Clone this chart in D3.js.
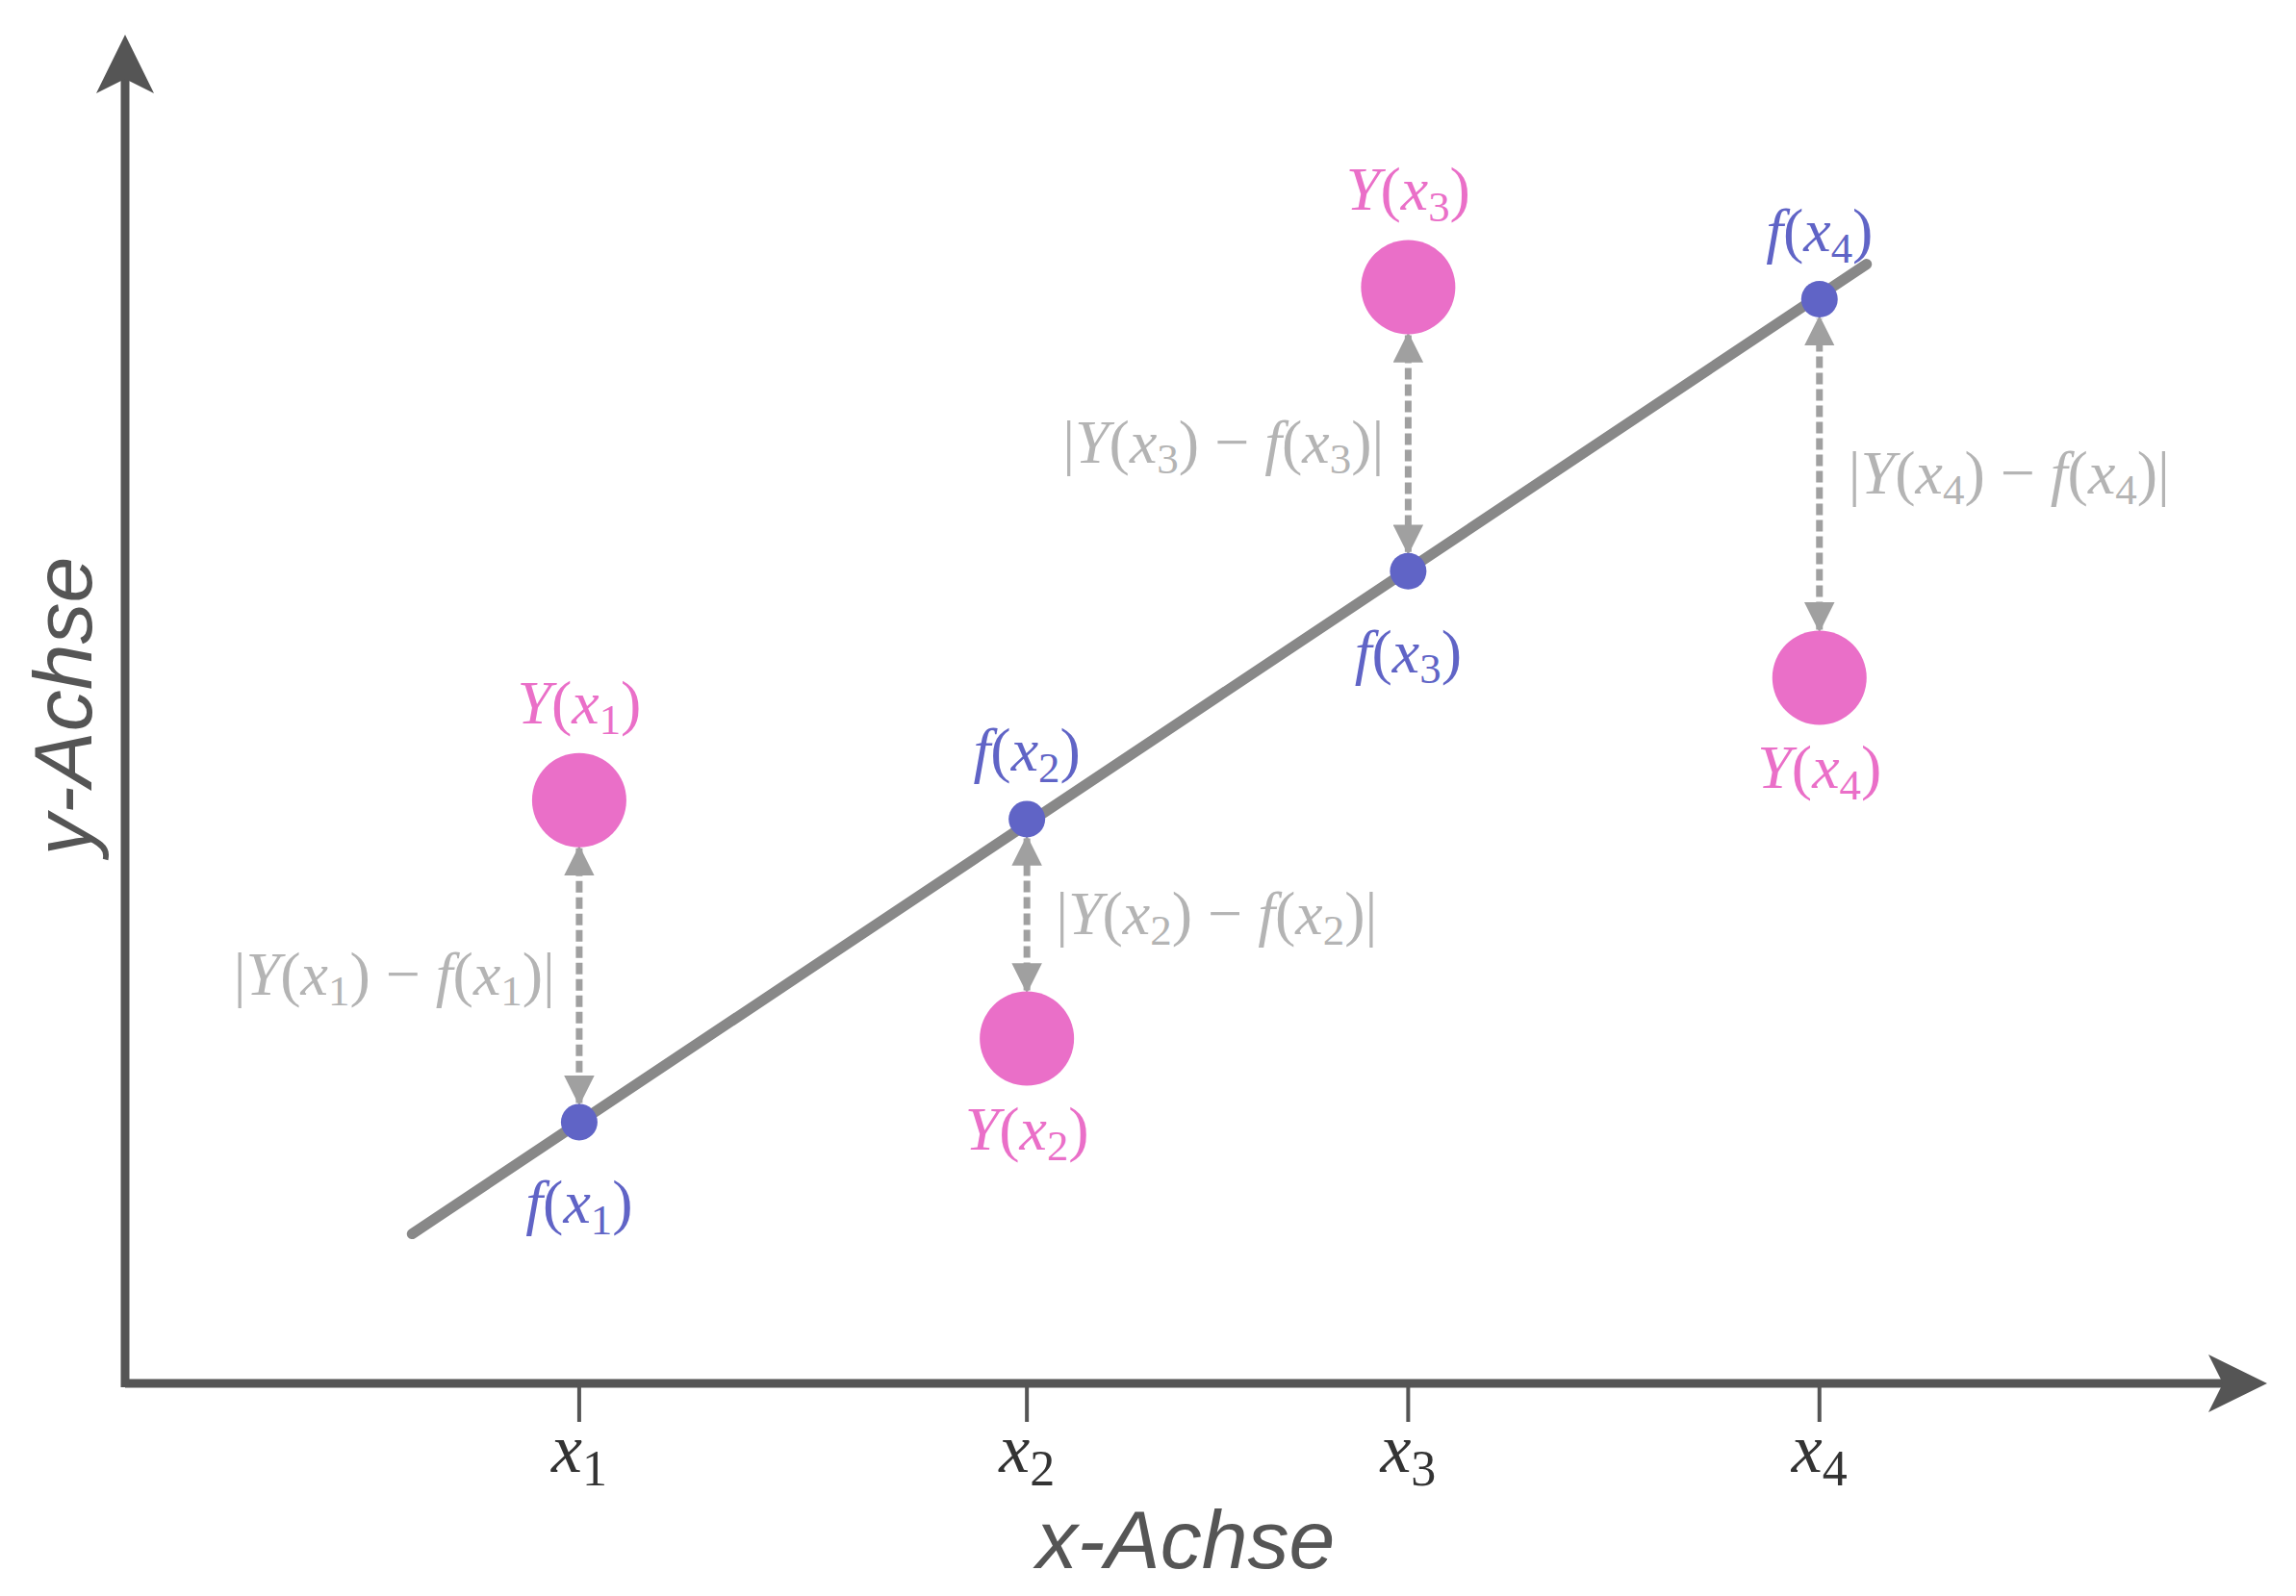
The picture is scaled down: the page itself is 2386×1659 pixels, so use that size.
<!DOCTYPE html>
<html><head><meta charset="utf-8">
<script src="https://cdn.jsdelivr.net/npm/d3@7"></script>
<style>body{margin:0;background:#fff}</style></head>
<body><svg id="c" width="2386" height="1659"></svg>
<script>
const tickLabels = ["1","2","3","4"];
const xValues = [2.12, 4.21, 5.99, 7.91];
const fValues = [1.94, 4.19, 6.03, 8.05];
const YValues = [4.33, 2.56, 8.14, 5.24];
const lineX = [1.34, 8.13];
const lineY = [1.11, 8.31];
const residualSide = ["left","right","left","right"];
const YLabelAbove = [true,false,true,false];

const svg = d3.select("#c");
const x = d3.scaleLinear().domain([0,10]).range([130,2356]);
const y = d3.scaleLinear().domain([0,10]).range([1438,38]);
const axisC="#555", pink="#ea6fc8", blue="#6064c6", gray="#a0a0a0", lgray="#b4b4b4";
const serif="'Liberation Serif','DejaVu Serif',serif";

const defs=svg.append("defs");
defs.append("marker").attr("id","ah").attr("viewBox","0 0 10 10").attr("refX",9).attr("refY",5)
 .attr("markerWidth",4.5).attr("markerHeight",4.5).attr("orient","auto-start-reverse")
 .append("path").attr("d","M0,0L10,5L0,10z").attr("fill",gray);

svg.append("line").attr("x1",x(0)).attr("y1",y(0)).attr("x2",2330).attr("y2",y(0)).attr("stroke",axisC).attr("stroke-width",9);
svg.append("line").attr("x1",x(0)).attr("y1",y(0)+4).attr("x2",x(0)).attr("y2",60).attr("stroke",axisC).attr("stroke-width",9);
svg.append("path").attr("d",`M2356,${y(0)} L2295,${y(0)-30} L2310,${y(0)} L2295,${y(0)+30}Z`).attr("fill",axisC);
svg.append("path").attr("d",`M${x(0)},36 L${x(0)-30},97 L${x(0)},82 L${x(0)+30},97Z`).attr("fill",axisC);

xValues.forEach((v,i)=>{
  svg.append("line").attr("x1",x(v)).attr("x2",x(v)).attr("y1",y(0)).attr("y2",y(0)+40).attr("stroke",axisC).attr("stroke-width",4);
  const t=svg.append("text").attr("x",x(v)).attr("y",y(0)+92).attr("text-anchor","middle")
   .attr("font-family",serif).attr("font-size",72).attr("fill","#333");
  t.append("tspan").attr("font-style","italic").text("x");
  t.append("tspan").attr("font-size",52).attr("dy",14).text(tickLabels[i]);
});
svg.append("text").attr("x",1232).attr("y",1630).attr("text-anchor","middle").attr("font-family","'Liberation Sans',Arial,sans-serif")
 .attr("font-style","italic").attr("font-size",86).attr("fill","#555").text("x-Achse");
svg.append("text").attr("transform","translate(95,734) rotate(-90)").attr("text-anchor","middle").attr("font-family","'Liberation Sans',Arial,sans-serif")
 .attr("font-style","italic").attr("font-size",86).attr("fill","#555").text("y-Achse");

svg.append("line").attr("x1",x(lineX[0])).attr("y1",y(lineY[0])).attr("x2",x(lineX[1])).attr("y2",y(lineY[1]))
 .attr("stroke","#888").attr("stroke-width",11).attr("stroke-linecap","round");

function fn(sel,name,i,color,size){
  const t=sel.attr("font-family",serif).attr("font-size",size).attr("fill",color);
  t.append("tspan").attr("font-style","italic").text(name);
  t.append("tspan").text("(");
  t.append("tspan").attr("font-style","italic").text("x");
  t.append("tspan").attr("font-size",size*0.7).attr("dy",size*0.18).text(tickLabels[i]);
  t.append("tspan").attr("dy",-size*0.18).text(")");
}

xValues.forEach((v,i)=>{
  const cx=x(v), fy=y(fValues[i]), Yy=y(YValues[i]);
  const up = Yy<fy;
  const y1 = up ? Yy+50 : Yy-50, y2 = up ? fy-20 : fy+20;
  svg.append("line").attr("x1",cx).attr("x2",cx).attr("y1",y1).attr("y2",y2)
   .attr("stroke",gray).attr("stroke-width",7).attr("stroke-dasharray","12,5")
   .attr("marker-start","url(#ah)").attr("marker-end","url(#ah)");
  svg.append("circle").attr("cx",cx).attr("cy",Yy).attr("r",49).attr("fill",pink);
  svg.append("circle").attr("cx",cx).attr("cy",fy).attr("r",19).attr("fill",blue);
  const above = YLabelAbove[i];
  fn(svg.append("text").attr("x",cx).attr("y",above?Yy-80:Yy+115).attr("text-anchor","middle"),"Y",i,pink,64);
  fn(svg.append("text").attr("x",cx).attr("y",above?fy+105:fy-50).attr("text-anchor","middle"),"f",i,blue,64);
  const my=(y1+y2)/2+20;
  const left=residualSide[i]==="left";
  const t=svg.append("text").attr("x",left?cx-25:cx+30).attr("y",my).attr("text-anchor",left?"end":"start")
   .attr("font-family",serif).attr("font-size",64).attr("fill",lgray);
  t.append("tspan").text("|");
  t.append("tspan").attr("font-style","italic").text("Y");
  t.append("tspan").text("(");
  t.append("tspan").attr("font-style","italic").text("x");
  t.append("tspan").attr("font-size",45).attr("dy",11).text(tickLabels[i]);
  t.append("tspan").attr("dy",-11).text(") − ");
  t.append("tspan").attr("font-style","italic").text("f");
  t.append("tspan").text("(");
  t.append("tspan").attr("font-style","italic").text("x");
  t.append("tspan").attr("font-size",45).attr("dy",11).text(tickLabels[i]);
  t.append("tspan").attr("dy",-11).text(")|");
});
</script></body></html>
